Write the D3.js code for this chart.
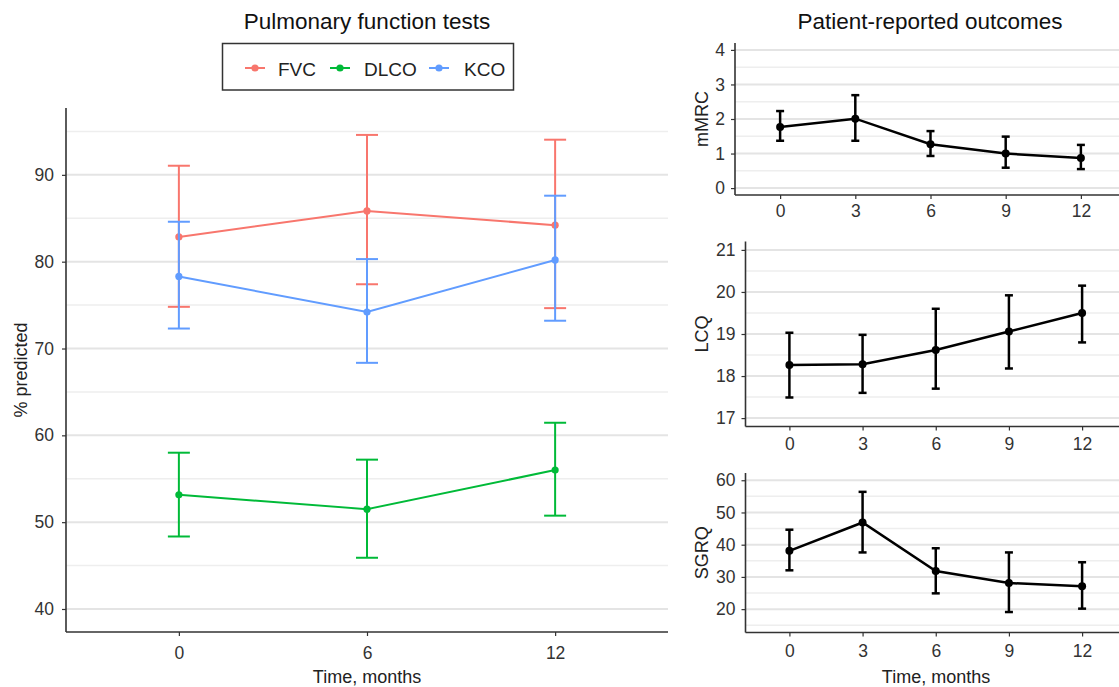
<!DOCTYPE html>
<html>
<head>
<meta charset="utf-8">
<script src="https://cdn.jsdelivr.net/npm/d3@7"></script>
<style>
  body { margin: 0; background: #fff; }
  svg text { font-family: "Liberation Sans", Arial, sans-serif; }
</style>
</head>
<body>
<div id="chart"></div>
<script>
// pulmonary function tests (% predicted), mean with 95% CI
const pftTimes = [0, 6, 12];
const fvcMean = [82.85, 85.85, 84.2];
const fvcLow  = [74.8, 77.4, 74.65];
const fvcHigh = [91.05, 94.6, 94.05];
const dlcoMean = [53.15, 51.5, 56.0];
const dlcoLow  = [48.35, 45.9, 50.75];
const dlcoHigh = [58.0, 57.2, 61.45];
const kcoMean = [78.3, 74.2, 80.2];
const kcoLow  = [72.3, 68.35, 73.2];
const kcoHigh = [84.6, 80.3, 87.6];

// patient reported outcomes
const proTimes = [0, 3, 6, 9, 12];
const mmrcMean = [1.77, 2.01, 1.27, 1.0, 0.87];
const mmrcLow  = [1.37, 1.37, 0.93, 0.59, 0.55];
const mmrcHigh = [2.23, 2.69, 1.65, 1.49, 1.25];
const lcqMean = [18.26, 18.28, 18.62, 19.06, 19.5];
const lcqLow  = [17.49, 17.6, 17.7, 18.18, 18.8];
const lcqHigh = [19.03, 18.98, 19.6, 19.92, 20.15];
const sgrqMean = [38.1, 46.9, 31.85, 28.1, 27.1];
const sgrqLow  = [32.05, 37.6, 24.9, 19.1, 20.15];
const sgrqHigh = [44.65, 56.4, 38.9, 37.6, 34.55];

const legNames = ["FVC", "DLCO", "KCO"];

const W = 1119, H = 687;
const svg = d3.select("#chart").append("svg")
    .attr("width", W).attr("height", H);

function rows(times, mean, low, high) {
    return times.map((t, i) => ({ t: t, m: mean[i], lo: low[i], hi: high[i] }));
}

function drawPanel(p) {
    const g = svg.append("g");
    const x = d3.scalePoint().domain(p.times).range([p.x0, p.x1]).padding(0.6);
    const y = d3.scaleLinear().domain(p.ydom).range([p.y1, p.y0]);

    // minor + major grid
    g.selectAll(".minor").data(p.minor).enter().append("line")
        .attr("x1", p.x0).attr("x2", p.x1)
        .attr("y1", d => y(d)).attr("y2", d => y(d))
        .attr("stroke", "#eeeeee").attr("stroke-width", 1.5);
    g.selectAll(".major").data(p.ticks).enter().append("line")
        .attr("x1", p.x0).attr("x2", p.x1)
        .attr("y1", d => y(d)).attr("y2", d => y(d))
        .attr("stroke", "#e4e4e4").attr("stroke-width", 2);

    // axes
    const ya = g.append("g").attr("transform", `translate(${p.x0},0)`)
        .call(d3.axisLeft(y).tickValues(p.ticks).tickFormat(d3.format("d"))
            .tickSize(4).tickPadding(p.ypad));
    const xa = g.append("g").attr("transform", `translate(0,${p.y1})`)
        .call(d3.axisBottom(x).tickSize(4).tickPadding(p.xpad));
    [ya, xa].forEach(a => {
        a.attr("font-size", null).attr("font-family", null);
        a.select(".domain").attr("stroke", "#333").attr("stroke-width", 1.6);
        a.selectAll(".tick line").attr("stroke", "#333").attr("stroke-width", 1.2);
        a.selectAll("text").attr("font-size", 17.5).attr("fill", "#333");
    });
    ya.select(".domain").attr("d", `M0,${p.y0}V${p.y1}`);
    xa.select(".domain").attr("d", `M${p.x0},0H${p.x1}`);

    // y label
    g.append("text")
        .attr("transform", `translate(${p.ylabX},${(p.y0 + p.y1) / 2}) rotate(-90)`)
        .attr("text-anchor", "middle").attr("font-size", 18).attr("fill", "#222")
        .text(p.ylab);

    // series
    p.series.forEach(s => {
        const d = rows(p.times, s.mean, s.low, s.high);
        const sg = g.append("g");
        sg.append("path").datum(d)
            .attr("fill", "none").attr("stroke", s.color).attr("stroke-width", p.lw)
            .attr("d", d3.line().x(r => x(r.t)).y(r => y(r.m)));
        const eb = sg.selectAll(".eb").data(d).enter().append("g");
        eb.append("line")
            .attr("x1", r => x(r.t)).attr("x2", r => x(r.t))
            .attr("y1", r => y(r.lo)).attr("y2", r => y(r.hi))
            .attr("stroke", s.color).attr("stroke-width", p.lw);
        ["lo", "hi"].forEach(k => {
            eb.append("line")
                .attr("x1", r => x(r.t) - p.cap).attr("x2", r => x(r.t) + p.cap)
                .attr("y1", r => y(r[k])).attr("y2", r => y(r[k]))
                .attr("stroke", s.color).attr("stroke-width", p.lw);
        });
        eb.append("circle")
            .attr("cx", r => x(r.t)).attr("cy", r => y(r.m))
            .attr("r", p.pr).attr("fill", s.color);
    });
}

const colFVC = "#F8766D", colDLCO = "#00BA38", colKCO = "#619CFF";

drawPanel({
    times: pftTimes, x0: 66, x1: 668, y0: 108, y1: 632,
    ydom: [37.35, 97.7], ticks: [40, 50, 60, 70, 80, 90], minor: [45, 55, 65, 75, 85, 95],
    ylab: "% predicted", ylabX: 27, lw: 2, cap: 11, pr: 3.6, ypad: 8, xpad: 11,
    series: [
        { mean: fvcMean, low: fvcLow, high: fvcHigh, color: colFVC },
        { mean: kcoMean, low: kcoLow, high: kcoHigh, color: colKCO },
        { mean: dlcoMean, low: dlcoLow, high: dlcoHigh, color: colDLCO }
    ]
});

drawPanel({
    times: proTimes, x0: 735, x1: 1126, y0: 43, y1: 195,
    ydom: [-0.2, 4.2], ticks: [0, 1, 2, 3, 4], minor: [0.5, 1.5, 2.5, 3.5],
    ylab: "mMRC", ylabX: 708, lw: 2.5, cap: 4, pr: 4, ypad: 6, xpad: 6,
    series: [{ mean: mmrcMean, low: mmrcLow, high: mmrcHigh, color: "#000" }]
});

drawPanel({
    times: proTimes, x0: 745.5, x1: 1126, y0: 241.5, y1: 426.5,
    ydom: [16.8, 21.2], ticks: [17, 18, 19, 20, 21], minor: [17.5, 18.5, 19.5, 20.5],
    ylab: "LCQ", ylabX: 708, lw: 2.5, cap: 4, pr: 4, ypad: 6, xpad: 7,
    series: [{ mean: lcqMean, low: lcqLow, high: lcqHigh, color: "#000" }]
});

drawPanel({
    times: proTimes, x0: 745.5, x1: 1126, y0: 473, y1: 632.5,
    ydom: [12.75, 62.25], ticks: [20, 30, 40, 50, 60], minor: [15, 25, 35, 45, 55],
    ylab: "SGRQ", ylabX: 708, lw: 2.5, cap: 4, pr: 4, ypad: 6, xpad: 8,
    series: [{ mean: sgrqMean, low: sgrqLow, high: sgrqHigh, color: "#000" }]
});

// titles
svg.append("text").attr("x", 367).attr("y", 28.5).attr("text-anchor", "middle")
    .attr("font-size", 22.5).attr("fill", "#111").text("Pulmonary function tests");
svg.append("text").attr("x", 930).attr("y", 28.5).attr("text-anchor", "middle")
    .attr("font-size", 22.5).attr("fill", "#111").text("Patient-reported outcomes");

// x titles
svg.append("text").attr("x", 367).attr("y", 683).attr("text-anchor", "middle")
    .attr("font-size", 18).attr("fill", "#222").text("Time, months");
svg.append("text").attr("x", 936).attr("y", 683).attr("text-anchor", "middle")
    .attr("font-size", 18).attr("fill", "#222").text("Time, months");

// legend
const legColors = [colFVC, colDLCO, colKCO];
const legX = [245, 330, 429];
const legTextX = [278, 364, 464];
const leg = svg.append("g");
leg.append("rect").attr("x", 222.5).attr("y", 43.5).attr("width", 291).attr("height", 46.5)
    .attr("fill", "#fff").attr("stroke", "#333").attr("stroke-width", 1.5);
legNames.forEach((n, i) => {
    leg.append("line").attr("x1", legX[i]).attr("x2", legX[i] + 20)
        .attr("y1", 68).attr("y2", 68).attr("stroke", legColors[i]).attr("stroke-width", 2);
    leg.append("circle").attr("cx", legX[i] + 10).attr("cy", 68).attr("r", 3.6)
        .attr("fill", legColors[i]);
    leg.append("text").attr("x", legTextX[i]).attr("y", 75.5)
        .attr("font-size", 19).attr("fill", "#222").text(n);
});
</script>
</body>
</html>
